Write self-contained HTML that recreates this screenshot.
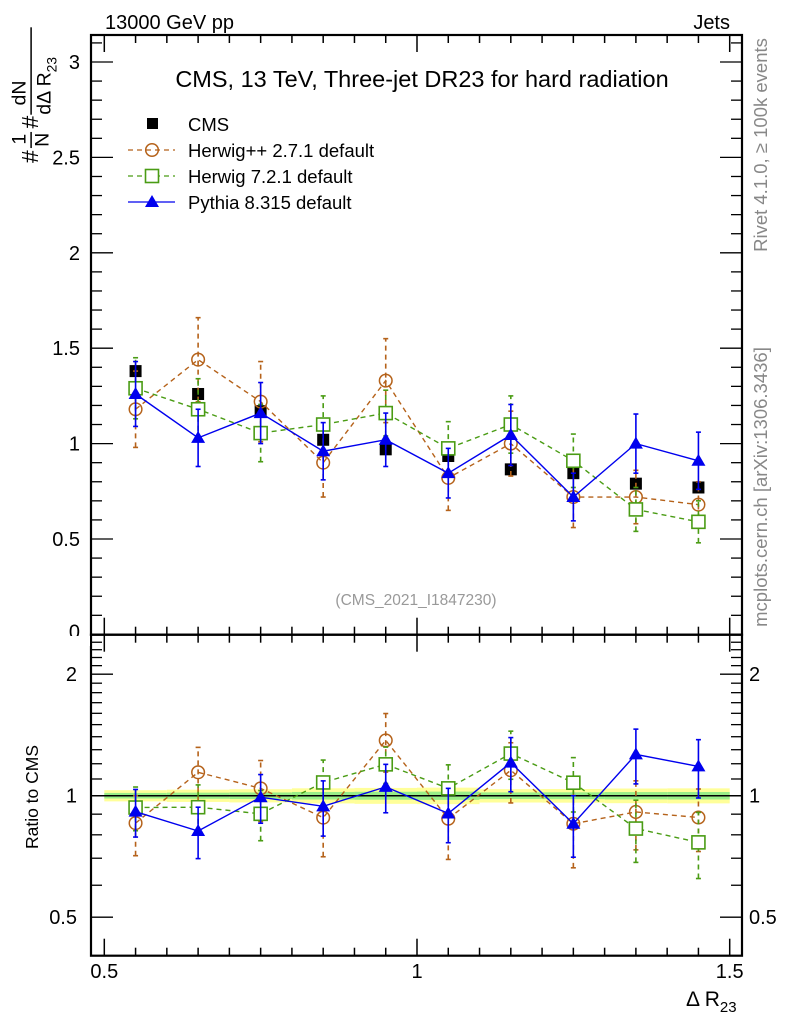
<!DOCTYPE html>
<html><head><meta charset="utf-8"><style>
html,body{margin:0;padding:0;background:#fff}
svg{display:block;font-family:"Liberation Sans",sans-serif}
</style></head><body>
<svg id="plot" xmlns="http://www.w3.org/2000/svg" width="786" height="1024" viewBox="0 0 786 1024">
<text x="105" y="29" font-size="20">13000 GeV pp</text>
<text x="730" y="29" font-size="20" text-anchor="end">Jets</text>
<text x="422" y="87" font-size="23.5" text-anchor="middle">CMS, 13 TeV, Three-jet DR23 for hard radiation</text>
<text x="416" y="605" font-size="15.5" fill="#999" text-anchor="middle">(CMS_2021_I1847230)</text>
<text transform="translate(767,145) rotate(-90)" font-size="18.5" fill="#888" text-anchor="middle">Rivet 4.1.0, ≥ 100k events</text>
<text transform="translate(767,487) rotate(-90)" font-size="18.5" fill="#888" text-anchor="middle">mcplots.cern.ch [arXiv:1306.3436]</text>
<g transform="translate(38,94) rotate(-90) scale(1.15)" font-size="20">
 <text x="-60" y="0">#</text><text x="-44" y="-11" font-size="17">1</text><text x="-46" y="9" font-size="17">N</text>
 <line x1="-47" y1="-6" x2="-33" y2="-6" stroke="#000" stroke-width="1.3"/>
 <text x="-30" y="0">#</text><text x="-10" y="-11" font-size="17">dN</text><text x="-18" y="11" font-size="17">dΔ R<tspan font-size="12" dy="5">23</tspan></text>
 <line x1="-18" y1="-6" x2="58" y2="-6" stroke="#000" stroke-width="1.3"/>
</g>
<text transform="translate(38,797) rotate(-90)" font-size="17.5" text-anchor="middle">Ratio to CMS</text>
<text x="686" y="1006" font-size="21">Δ R<tspan font-size="15" dy="6">23</tspan></text>
<g id="legend"></g>
<g id="main"></g>
<g id="ratio"></g>
</svg>
<script>
const xCenters=[0.55,0.65,0.75,0.85,0.95,1.05,1.15,1.25,1.35,1.45];
const cmsVals=[1.38,1.26,1.17,1.02,0.97,0.935,0.865,0.845,0.79,0.77];
const cmsErrs=[0.02,0.02,0.02,0.02,0.02,0.02,0.015,0.015,0.015,0.015];
const hppVals=[1.18,1.44,1.22,0.90,1.33,0.82,1.00,0.72,0.72,0.68];
const hppErrs=[0.20,0.22,0.21,0.18,0.22,0.17,0.17,0.16,0.14,0.12];
const h7Vals=[1.29,1.18,1.055,1.10,1.16,0.975,1.10,0.91,0.655,0.59];
const h7Errs=[0.16,0.16,0.15,0.15,0.12,0.14,0.15,0.14,0.115,0.11];
const pyVals=[1.26,1.03,1.16,0.96,1.02,0.845,1.045,0.72,1.00,0.91];
const pyErrs=[0.17,0.15,0.16,0.15,0.14,0.13,0.16,0.125,0.155,0.15];
const mainTicks=["0","0.5","1","1.5","2","2.5","3"];
const ratioTicks=["0.5","1","2"];
const xTicks=["0.5","1","1.5"];

const NS="http://www.w3.org/2000/svg";
const L=91,R=742,T=35,MB=634.7,RB=955.7;
const X=v=>104.3+(v-0.5)*625.4;
const Y=v=>634.4-v*190.8;
const YR=r=>795.7-121.5*Math.log2(r);
function mk(tag,attrs,parent){const e=document.createElementNS(NS,tag);for(const k in attrs)e.setAttribute(k,attrs[k]);parent.appendChild(e);return e;}
const main=document.getElementById('main'),ratio=document.getElementById('ratio'),leg=document.getElementById('legend');

const band=mk('g',{},ratio);


xCenters.forEach((x,i)=>{
  const rel=cmsErrs[i]/cmsVals[i];
  const y1=mk('rect',{x:X(x-0.05),width:X(x+0.05)-X(x-0.05),y:YR(1+rel*2.2),height:YR(1-rel*2.2)-YR(1+rel*2.2),fill:'#ffff99'},band);
  
  
  const g1=mk('rect',{x:X(x-0.05),width:X(x+0.05)-X(x-0.05),y:YR(1+rel*1.1),height:YR(1-rel*1.1)-YR(1+rel*1.1),fill:'#99ee88'},band);
  
  
});
mk('line',{x1:L,x2:R,y1:YR(1),y2:YR(1),stroke:'#000','stroke-width':1.5},ratio);

for(const [top,bot] of [[T,MB],[MB,RB]]){
  const f=mk('rect',{x:L,y:top,width:R-L,height:bot-top,fill:'none',stroke:'#000','stroke-width':2.2},main);
  
  
  for(let v=0.5;v<=1.501;v+=0.05){
    const maj=Math.abs(v*2-Math.round(v*2))<1e-6;
    const len=maj?17:8;
    mk('line',{x1:X(v),x2:X(v),y1:bot,y2:bot-len,stroke:'#000','stroke-width':1.5},main);
    mk('line',{x1:X(v),x2:X(v),y1:top,y2:top+len,stroke:'#000','stroke-width':1.5},main);
  }
}
for(let k=0;k<=31;k++){
  const v=k/10;const maj=k%5===0;const len=maj?22:11;
  mk('line',{x1:L,x2:L+len,y1:Y(v),y2:Y(v),stroke:'#000','stroke-width':1.3},main);
  mk('line',{x1:R,x2:R-len,y1:Y(v),y2:Y(v),stroke:'#000','stroke-width':1.3},main);
}
mainTicks.forEach(t=>{
  const v=parseFloat(t);
  const e=mk('text',{x:80,y:Y(v)+(v===0?4:7),'font-size':20,'text-anchor':'end'},main);
  e.textContent=t;
  
  
});
const cover=mk('rect',{x:40,y:636,width:50,height:10,fill:'#fff'},main);


for(let k=4;k<=25;k++){
  const v=k/10;if(YR(v)<MB+1||YR(v)>RB-1)continue;
  const maj=(k===5||k===10||k===20);const len=maj?22:11;
  mk('line',{x1:L,x2:L+len,y1:YR(v),y2:YR(v),stroke:'#000','stroke-width':1.3},ratio);
  mk('line',{x1:R,x2:R-len,y1:YR(v),y2:YR(v),stroke:'#000','stroke-width':1.3},ratio);
}
ratioTicks.forEach(t=>{
  const a=mk('text',{x:77,y:YR(parseFloat(t))+7,'font-size':20,'text-anchor':'end'},ratio);
  a.textContent=t;
  
  
  const b=mk('text',{x:749,y:YR(parseFloat(t))+7,'font-size':20},ratio);
  b.textContent=t;
  
  
});
xTicks.forEach(t=>{
  const e=mk('text',{x:X(parseFloat(t)),y:978,'font-size':20,'text-anchor':'middle'},ratio);
  e.textContent=t;
  
  
});

function marker(type,color,x,y,parent){
  let e;
  if(type==='sq') e=mk('rect',{x:x-6,y:y-6,width:12,height:12,fill:'#000'},parent);
  else if(type==='circ') e=mk('circle',{cx:x,cy:y,r:6.3,fill:'none',stroke:color,'stroke-width':1.5},parent);
  else if(type==='osq') e=mk('rect',{x:x-6.5,y:y-6.5,width:13,height:13,fill:'#fff',stroke:color,'stroke-width':1.6},parent);
  else e=mk('path',{d:`M${x},${y-7}L${x+7},${y+5}L${x-7},${y+5}Z`,fill:color},parent);
  return e;
}
const series=[
 {name:'hpp',vals:hppVals,errs:hppErrs,color:'#b5621a',dash:'5,4',type:'circ',label:'Herwig++ 2.7.1 default'},
 {name:'h7',vals:h7Vals,errs:h7Errs,color:'#4a9c14',dash:'5,4',type:'osq',label:'Herwig 7.2.1 default'},
 {name:'pythia',vals:pyVals,errs:pyErrs,color:'#0000ee',dash:'',type:'tri',label:'Pythia 8.315 default'}
];
function drawSeries(s,parent,ys,lo,hi){
  const g=mk('g',{},parent);
  
  
  const pts=xCenters.map((x,i)=>X(x)+','+ys[i]).join(' ');
  const ln=mk('polyline',{points:pts,fill:'none',stroke:s.color,'stroke-width':1.4,'stroke-dasharray':s.dash},g);
  
  
  xCenters.forEach((x,i)=>{
    const px=X(x);
    mk('line',{x1:px,x2:px,y1:lo[i],y2:hi[i],stroke:s.color,'stroke-width':1.6,'stroke-dasharray':s.dash},g);
    mk('line',{x1:px-2.5,x2:px+2.5,y1:lo[i],y2:lo[i],stroke:s.color,'stroke-width':1.6},g);
    mk('line',{x1:px-2.5,x2:px+2.5,y1:hi[i],y2:hi[i],stroke:s.color,'stroke-width':1.6},g);
    const m=marker(s.type,s.color,px,ys[i],g);
    
    
  });
}
const cg=mk('g',{},main);


xCenters.forEach((x,i)=>{
  mk('line',{x1:X(x),x2:X(x),y1:Y(cmsVals[i]-cmsErrs[i]),y2:Y(cmsVals[i]+cmsErrs[i]),stroke:'#000','stroke-width':1.5},cg);
  const m=marker('sq','#000',X(x),Y(cmsVals[i]),cg);
  
  
});
series.forEach(s=>{
  drawSeries(s,main,s.vals.map(v=>Y(v)),s.vals.map((v,i)=>Y(v-s.errs[i])),s.vals.map((v,i)=>Y(v+s.errs[i])));
  const rv=s.vals.map((v,i)=>v/cmsVals[i]), re=s.errs.map((e,i)=>e/cmsVals[i]);
  drawSeries(s,ratio,rv.map(r=>YR(r)),rv.map((r,i)=>YR(r-re[i])),rv.map((r,i)=>YR(r+re[i])));
});
const lm=mk('rect',{x:147,y:118,width:11,height:11,fill:'#000'},leg);


const lt=mk('text',{x:188,y:131,'font-size':18.5},leg);lt.textContent='CMS';


series.forEach((s,i)=>{
  const y=150+26*i;
  mk('line',{x1:128,x2:175,y1:y,y2:y,stroke:s.color,'stroke-width':1.3,'stroke-dasharray':s.dash},leg);
  const m=marker(s.type,s.color,152,y,leg);
  
  
  const t=mk('text',{x:188,y:y+7,'font-size':18.5},leg);t.textContent=s.label;
  
  
});
</script>
</body></html>
